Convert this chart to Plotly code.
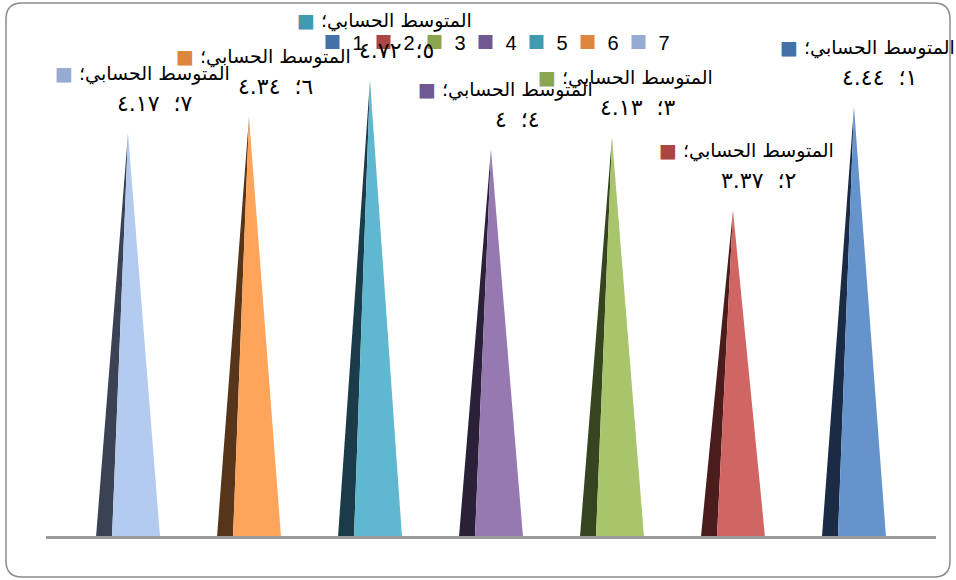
import plotly.graph_objects as go

# Category names, mean values and the series label
categories = ["1", "2", "3", "4", "5", "6", "7"]
means = [4.44, 3.37, 4.13, 4.00, 4.72, 4.34, 4.17]
series_name = "المتوسط الحسابي"

# Colour per category: legend/key colour, light face, dark side face
key_colors = ["#4472A8", "#AA4644", "#8BA64E", "#705892", "#3F9BB1", "#DD8640", "#95ABD3"]
face_colors = ["#6594CC", "#D06663", "#A8C56B", "#9579B0", "#60B7D0", "#FFA45B", "#B4CBF0"]
side_colors = ["#1B2B46", "#4A1C1C", "#374420", "#2A2038", "#1A3B47", "#56351A", "#3A4254"]

W, H = 956, 580
M_L, M_R, M_T, M_B = 46, 20, 53, 44
PLOT_W = W - M_L - M_R
PLOT_H = H - M_T - M_B

AR_DIGITS = "٠١٢٣٤٥٦٧٨٩"


def to_arabic(value):
    s = f"{value:.2f}".rstrip("0").rstrip(".")
    return "".join(AR_DIGITS[int(c)] if c.isdigit() else c for c in s)


def px_x(px):
    return (px - M_L) / PLOT_W


def px_y(py):
    return (H - M_B - py) / PLOT_H


HALF = 0.264   # half base width of a cone, in category units
SIDE = 0.132   # width of the shaded side face

fig = go.Figure()

# the x axis runs right-to-left, so the shaded side sits at i + HALF
for i, (cat, v) in enumerate(zip(categories, means)):
    fig.add_trace(go.Scatter(
        x=[i + HALF, i + SIDE, i, i + HALF], y=[0, 0, v, 0],
        fill="toself", fillcolor=side_colors[i], mode="lines",
        line=dict(width=0, color=side_colors[i]),
        showlegend=False, hoverinfo="skip"))
    fig.add_trace(go.Scatter(
        x=[i + SIDE, i - HALF, i, i + SIDE], y=[0, 0, v, 0],
        fill="toself", fillcolor=face_colors[i], mode="lines",
        line=dict(width=0, color=face_colors[i]),
        showlegend=False, name=cat,
        hovertemplate=f"{cat}: {v}<extra></extra>"))

# legend entries
for i, cat in enumerate(categories):
    fig.add_trace(go.Scatter(
        x=[None], y=[None], mode="markers", name=cat,
        marker=dict(symbol="square", size=14, color=key_colors[i]),
        showlegend=True))

annotations = []
font1 = dict(family="DejaVu Sans", size=19, color="#000000")
font2 = dict(family="DejaVu Sans", size=22, color="#000000")
for i, (cat, v) in enumerate(zip(categories, means)):
    line1 = f"<span style='color:{key_colors[i]}'>■</span> {series_name}؛"
    line2 = f"{to_arabic(int(cat))}؛  {to_arabic(v)}"
    annotations.append(dict(
        x=i, y=v, xref="x", yref="y", text=line1, showarrow=False,
        xanchor="center", yanchor="middle", xshift=14, yshift=60,
        font=font1))
    annotations.append(dict(
        x=i, y=v, xref="x", yref="y", text=line2, showarrow=False,
        xanchor="center", yanchor="middle", xshift=26, yshift=30,
        font=font2))

# rounded chart frame
fx0, fx1 = px_x(6), px_x(950)
fy0, fy1 = px_y(577), px_y(3)
rx, ry = 16 / PLOT_W, 16 / PLOT_H
frame = (
    f"M {fx0 + rx},{fy1} L {fx1 - rx},{fy1} Q {fx1},{fy1} {fx1},{fy1 - ry} "
    f"L {fx1},{fy0 + ry} Q {fx1},{fy0} {fx1 - rx},{fy0} "
    f"L {fx0 + rx},{fy0} Q {fx0},{fy0} {fx0},{fy0 + ry} "
    f"L {fx0},{fy1 - ry} Q {fx0},{fy1} {fx0 + rx},{fy1} Z"
)

fig.update_layout(
    width=W, height=H,
    margin=dict(l=M_L, r=M_R, t=M_T, b=M_B),
    paper_bgcolor="#FFFFFF", plot_bgcolor="#FFFFFF",
    xaxis=dict(range=[6.678, -0.678], showgrid=False, zeroline=False,
               showticklabels=False, ticks="", showline=True,
               linecolor="#9A9A9A", linewidth=3, fixedrange=True),
    yaxis=dict(range=[0, 5], showgrid=False, zeroline=False,
               showticklabels=False, ticks="", showline=False, fixedrange=True),
    legend=dict(orientation="h", x=0.5, xanchor="center", y=px_y(42),
                yanchor="middle", bgcolor="rgba(0,0,0,0)",
                font=dict(family="Liberation Sans", size=20, color="#000000"),
                itemwidth=30, entrywidth=6, traceorder="normal"),
    annotations=annotations,
    shapes=[dict(type="path", path=frame, xref="paper", yref="paper",
                 line=dict(color="#8C8C8C", width=1.5), layer="below")],
    showlegend=True,
)

fig.write_html("out.html")
